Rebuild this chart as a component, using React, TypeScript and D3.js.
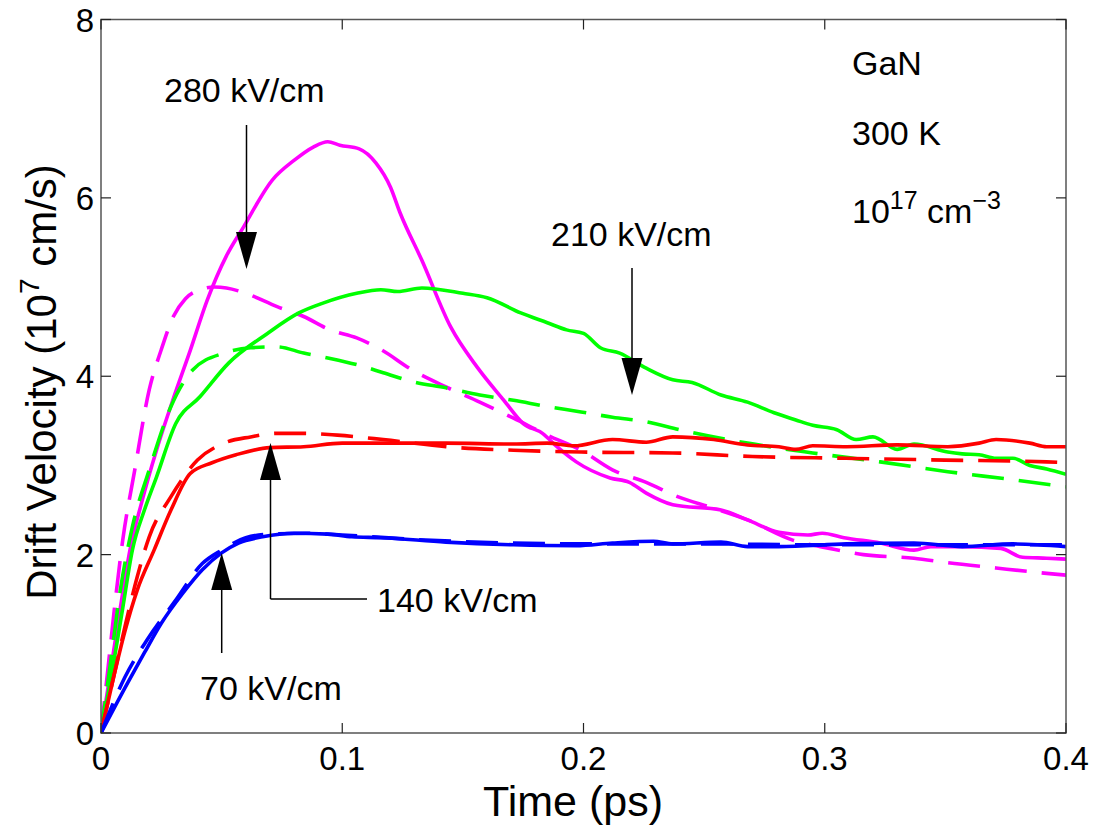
import React from "react";
import * as d3 from "d3";

// ---- data (time in ps, drift velocity in 1e7 cm/s) ----
const mSolidT = [0, 0.004, 0.008, 0.012, 0.017, 0.023, 0.030, 0.037, 0.044, 0.052, 0.059, 0.071, 0.080, 0.088, 0.094, 0.099, 0.107, 0.114, 0.120, 0.124, 0.133, 0.145, 0.156, 0.167, 0.175, 0.183, 0.189, 0.197, 0.211, 0.219, 0.226, 0.237, 0.257, 0.268, 0.281, 0.293, 0.299, 0.308, 0.323, 0.337, 0.344, 0.357, 0.373, 0.382, 0.392, 0.4];
const mSolidV = [0, 0.7, 1.4, 2.05, 2.6, 3.17, 3.75, 4.29, 4.85, 5.35, 5.67, 6.2, 6.42, 6.57, 6.63, 6.59, 6.55, 6.39, 6.12, 5.83, 5.3, 4.55, 4.1, 3.73, 3.47, 3.36, 3.21, 3.04, 2.86, 2.81, 2.69, 2.56, 2.5, 2.39, 2.25, 2.22, 2.24, 2.19, 2.13, 2.05, 2.09, 2.09, 2.07, 1.97, 1.96, 1.95];
const mDashT = [0, 0.003, 0.006, 0.009, 0.014, 0.020, 0.025, 0.030, 0.035, 0.041, 0.047, 0.052, 0.060, 0.073, 0.084, 0.095, 0.106, 0.116, 0.129, 0.143, 0.157, 0.171, 0.185, 0.199, 0.212, 0.226, 0.239, 0.254, 0.268, 0.287, 0.302, 0.316, 0.337, 0.351, 0.371, 0.392, 0.4];
const mDashV = [0, 0.75, 1.5, 2.16, 2.95, 3.85, 4.3, 4.67, 4.87, 4.97, 5.0, 4.99, 4.93, 4.78, 4.67, 4.52, 4.43, 4.3, 4.07, 3.88, 3.71, 3.53, 3.34, 3.17, 2.95, 2.81, 2.65, 2.52, 2.39, 2.16, 2.07, 2.0, 1.96, 1.91, 1.85, 1.79, 1.77];

const gSolidT = [0, 0.005, 0.009, 0.013, 0.018, 0.023, 0.031, 0.041, 0.053, 0.069, 0.082, 0.092, 0.106, 0.116, 0.123, 0.133, 0.150, 0.160, 0.174, 0.185, 0.193, 0.200, 0.207, 0.215, 0.226, 0.237, 0.245, 0.257, 0.268, 0.279, 0.288, 0.295, 0.305, 0.313, 0.320, 0.330, 0.337, 0.351, 0.357, 0.364, 0.371, 0.378, 0.385, 0.392, 0.4];
const gSolidV = [0, 0.75, 1.4, 2.05, 2.5, 2.87, 3.47, 3.77, 4.15, 4.48, 4.71, 4.82, 4.93, 4.97, 4.95, 4.99, 4.93, 4.88, 4.71, 4.6, 4.52, 4.48, 4.32, 4.26, 4.09, 3.96, 3.93, 3.79, 3.71, 3.59, 3.51, 3.45, 3.4, 3.29, 3.32, 3.18, 3.24, 3.15, 3.13, 3.12, 3.08, 3.08, 3.0, 2.96, 2.9];
const gDashT = [0, 0.004, 0.008, 0.013, 0.020, 0.029, 0.038, 0.051, 0.062, 0.073, 0.084, 0.095, 0.106, 0.117, 0.129, 0.143, 0.157, 0.171, 0.185, 0.199, 0.212, 0.226, 0.240, 0.268, 0.295, 0.323, 0.351, 0.378, 0.4];
const gDashV = [0, 0.8, 1.6, 2.31, 2.95, 3.66, 4.07, 4.26, 4.32, 4.33, 4.26, 4.2, 4.13, 4.04, 3.94, 3.87, 3.79, 3.73, 3.66, 3.6, 3.54, 3.49, 3.4, 3.25, 3.14, 3.04, 2.93, 2.84, 2.76];

const rSolidT = [0, 0.005, 0.010, 0.015, 0.022, 0.029, 0.037, 0.046, 0.056, 0.070, 0.084, 0.100, 0.117, 0.143, 0.171, 0.185, 0.196, 0.212, 0.226, 0.237, 0.254, 0.268, 0.281, 0.288, 0.295, 0.309, 0.330, 0.351, 0.364, 0.371, 0.385, 0.392, 0.4];
const rSolidV = [0, 0.6, 1.15, 1.6, 2.05, 2.5, 2.91, 3.03, 3.12, 3.2, 3.21, 3.25, 3.25, 3.25, 3.24, 3.25, 3.22, 3.29, 3.26, 3.32, 3.29, 3.23, 3.21, 3.18, 3.22, 3.21, 3.23, 3.21, 3.25, 3.29, 3.25, 3.21, 3.21];
const rDashT = [0, 0.005, 0.010, 0.015, 0.020, 0.029, 0.040, 0.051, 0.062, 0.073, 0.084, 0.098, 0.117, 0.143, 0.171, 0.199, 0.237, 0.270, 0.309, 0.350, 0.392, 0.4];
const rDashV = [0, 0.6, 1.2, 1.75, 2.2, 2.65, 3.06, 3.25, 3.32, 3.36, 3.36, 3.34, 3.29, 3.21, 3.17, 3.15, 3.14, 3.1, 3.08, 3.06, 3.04, 3.03];

const bSolidT = [0, 0.011, 0.018, 0.025, 0.034, 0.042, 0.050, 0.057, 0.067, 0.080, 0.094, 0.104, 0.116, 0.143, 0.171, 0.197, 0.212, 0.229, 0.237, 0.257, 0.268, 0.281, 0.309, 0.337, 0.357, 0.378, 0.4];
const bSolidV = [0, 0.56, 0.9, 1.23, 1.57, 1.83, 2.02, 2.13, 2.2, 2.24, 2.23, 2.2, 2.19, 2.14, 2.11, 2.1, 2.13, 2.15, 2.12, 2.14, 2.09, 2.09, 2.12, 2.13, 2.09, 2.12, 2.09];
const bDashT = [0, 0.010, 0.019, 0.031, 0.042, 0.050, 0.060, 0.070, 0.085, 0.100, 0.130, 0.170, 0.200, 0.250, 0.300, 0.350, 0.4];
const bDashV = [0, 0.63, 1.04, 1.49, 1.9, 2.05, 2.19, 2.23, 2.24, 2.22, 2.17, 2.13, 2.12, 2.12, 2.11, 2.11, 2.11];

const xTicks = [0, 0.1, 0.2, 0.3, 0.4];
const yTicks = [0, 2, 4, 6, 8];

const series = [
  { t: mSolidT, v: mSolidV, color: "#ff00ff", dashed: false },
  { t: mDashT, v: mDashV, color: "#ff00ff", dashed: true },
  { t: gSolidT, v: gSolidV, color: "#00ff00", dashed: false },
  { t: gDashT, v: gDashV, color: "#00ff00", dashed: true },
  { t: rSolidT, v: rSolidV, color: "#ff0000", dashed: false },
  { t: rDashT, v: rDashV, color: "#ff0000", dashed: true },
  { t: bSolidT, v: bSolidV, color: "#0000ff", dashed: false },
  { t: bDashT, v: bDashV, color: "#0000ff", dashed: true },
];

const W = 1096;
const H = 826;
const L = 101, R = 1066, T = 19.5, B = 733;
const FONT = "'Liberation Sans', Arial, Helvetica, sans-serif";

export default function App() {
  const x = d3.scaleLinear().domain([0, 0.4]).range([L, R]);
  const y = d3.scaleLinear().domain([0, 8]).range([B, T]);
  const line = d3
    .line<[number, number]>()
    .x((d) => x(d[0]))
    .y((d) => y(d[1]))
    .curve(d3.curveMonotoneX);

  const arrowDown = (px: number, y0: number, tip: number) => (
    <g>
      <line x1={px} y1={y0} x2={px} y2={tip - 30} stroke="#000" strokeWidth={1.5} />
      <path d={`M${px - 10.5},${tip - 37} L${px + 10.5},${tip - 37} L${px},${tip} Z`} fill="#000" />
    </g>
  );
  const arrowUp = (px: number, y0: number, tip: number) => (
    <g>
      <line x1={px} y1={y0} x2={px} y2={tip + 30} stroke="#000" strokeWidth={1.5} />
      <path d={`M${px - 10.5},${tip + 37} L${px + 10.5},${tip + 37} L${px},${tip} Z`} fill="#000" />
    </g>
  );

  return (
    <svg
      width={W}
      height={H}
      style={{ position: "absolute", left: 0, top: 0, background: "#fff" }}
      fontFamily={FONT}
    >
      <rect x={0} y={0} width={W} height={H} fill="#fff" />
      <defs>
        <clipPath id="plot">
          <rect x={L} y={T} width={R - L} height={B - T} />
        </clipPath>
      </defs>

      {/* curves */}
      <g clipPath="url(#plot)">
        {series.map((s, i) => (
          <path
            key={i}
            d={line(s.t.map((t, j) => [t, s.v[j]] as [number, number])) || ""}
            fill="none"
            stroke={s.color}
            strokeWidth={3.6}
            strokeDasharray={s.dashed ? "32,15" : undefined}
            strokeLinejoin="round"
          />
        ))}
      </g>

      {/* frame */}
      <rect x={L} y={T} width={R - L} height={B - T} fill="none" stroke="#555" strokeWidth={1.5} />

      {/* x ticks */}
      {xTicks.map((t) => (
        <g key={"x" + t}>
          <line x1={x(t)} x2={x(t)} y1={B} y2={B - 10} stroke="#222" strokeWidth={1.2} />
          <line x1={x(t)} x2={x(t)} y1={T} y2={T + 10} stroke="#222" strokeWidth={1.2} />
          <text x={x(t)} y={770} fontSize={33} textAnchor="middle" fill="#000">
            {t === 0 ? "0" : String(t)}
          </text>
        </g>
      ))}
      {/* y ticks */}
      {yTicks.map((v) => (
        <g key={"y" + v}>
          <line x1={L} x2={L + 10} y1={y(v)} y2={y(v)} stroke="#222" strokeWidth={1.2} />
          <line x1={R} x2={R - 10} y1={y(v)} y2={y(v)} stroke="#222" strokeWidth={1.2} />
          <text x={94} y={y(v) + 12} fontSize={33} textAnchor="end" fill="#000">
            {String(v)}
          </text>
        </g>
      ))}

      {/* axis labels */}
      <text x={573} y={816} fontSize={43} textAnchor="middle" fill="#000">
        Time (ps)
      </text>
      <text transform="translate(56,382) rotate(-90)" fontSize={42} textAnchor="middle" fill="#000">
        Drift Velocity (10
        <tspan fontSize={28} dy={-17}>7</tspan>
        <tspan dy={17}> cm/s)</tspan>
      </text>

      {/* info text */}
      <text x={852} y={75} fontSize={34} fill="#000">GaN</text>
      <text x={852} y={145} fontSize={34} fill="#000">300 K</text>
      <text x={852} y={223} fontSize={34} fill="#000">
        10
        <tspan fontSize={25} dy={-14}>17</tspan>
        <tspan dy={14}> cm</tspan>
        <tspan fontSize={25} dy={-14}>−3</tspan>
      </text>

      {/* annotations */}
      <text x={164} y={102} fontSize={34} fill="#000">280 kV/cm</text>
      {arrowDown(246.5, 125, 269)}

      <text x={551} y={246} fontSize={34} fill="#000">210 kV/cm</text>
      {arrowDown(632, 268, 395)}

      {arrowUp(270.5, 599, 443)}
      <line x1={270.5} y1={599} x2={367} y2={599} stroke="#000" strokeWidth={1.5} />
      <text x={377} y={612} fontSize={34} fill="#000">140 kV/cm</text>

      {arrowUp(221.7, 653, 553)}
      <text x={200} y={700} fontSize={34} fill="#000">70 kV/cm</text>
    </svg>
  );
}
